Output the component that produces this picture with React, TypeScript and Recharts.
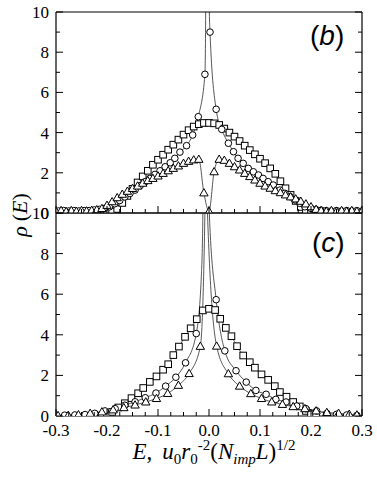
import React from 'react';
import { LineChart, Line, XAxis, YAxis } from 'recharts';

type Pt = [number, number];

const W = 377;
const H = 485;
const PLOT_L = 56;
const PLOT_R = 362;

const xTicks = Array.from({ length: 25 }, (_, i) => Math.round((-0.3 + i * 0.025) * 1000) / 1000);
const yTicks = [0, 1, 2, 3, 4, 5, 6, 7, 8, 9, 10];

// panel (b)
const bSquares: Pt[] = [
  [-0.2, 0.02], [-0.19, 0.07], [-0.18, 0.2], [-0.17, 0.5], [-0.16, 0.85], [-0.15, 1.2], [-0.14, 1.52],
  [-0.13, 1.82], [-0.12, 2.1], [-0.11, 2.4], [-0.1, 2.65], [-0.09, 2.9], [-0.08, 3.15], [-0.07, 3.4],
  [-0.06, 3.65], [-0.05, 3.9], [-0.04, 4.12], [-0.03, 4.3], [-0.02, 4.42], [-0.01, 4.48], [0, 4.48],
  [0.01, 4.46], [0.02, 4.38], [0.03, 4.2], [0.04, 4.0], [0.05, 3.8], [0.06, 3.58], [0.07, 3.35],
  [0.08, 3.13], [0.09, 2.92], [0.1, 2.7], [0.11, 2.48], [0.12, 2.22], [0.13, 1.95], [0.14, 1.58],
  [0.15, 1.23], [0.16, 0.9], [0.17, 0.6], [0.18, 0.3], [0.19, 0.12], [0.2, 0.03],
];
const bCircles: Pt[] = [
  [-0.295, 0.1], [-0.285, 0.12], [-0.275, 0.1], [-0.265, 0.12], [-0.255, 0.1], [-0.245, 0.12],
  [-0.235, 0.12], [-0.225, 0.15], [-0.215, 0.18], [-0.205, 0.23], [-0.195, 0.31], [-0.185, 0.46],
  [-0.175, 0.62], [-0.165, 0.8], [-0.155, 0.97], [-0.145, 1.14], [-0.135, 1.36], [-0.125, 1.56],
  [-0.116, 1.72], [-0.106, 1.92], [-0.096, 2.1], [-0.086, 2.3], [-0.076, 2.5], [-0.067, 2.72],
  [-0.057, 3.03], [-0.044, 3.35], [-0.032, 3.88], [-0.021, 4.79], [-0.008, 6.9], [0.002, 9.0],
  [0.014, 5.16], [0.025, 4.16], [0.038, 3.47], [0.048, 3.05], [0.057, 2.72], [0.067, 2.47],
  [0.077, 2.22], [0.087, 2.05], [0.097, 1.89], [0.106, 1.72], [0.116, 1.56], [0.126, 1.39],
  [0.139, 1.14], [0.149, 0.98], [0.159, 0.81], [0.169, 0.65], [0.178, 0.48], [0.188, 0.31],
  [0.2, 0.23], [0.21, 0.17], [0.22, 0.14], [0.23, 0.12], [0.24, 0.1], [0.25, 0.12], [0.26, 0.1],
  [0.27, 0.12], [0.28, 0.1], [0.29, 0.12], [0.3, 0.1],
];
// line-only points where the circle curve runs off the top
const bCirclePeak: Pt[] = [[-0.0065, 10], [-0.003, 40], [0.0006, 10]];
const bTriangles: Pt[] = [
  [-0.3, 0.08], [-0.29, 0.12], [-0.28, 0.07], [-0.27, 0.12], [-0.26, 0.08], [-0.25, 0.12], [-0.24, 0.1],
  [-0.23, 0.13], [-0.22, 0.16], [-0.21, 0.22], [-0.2, 0.38], [-0.19, 0.56], [-0.18, 0.76], [-0.17, 0.93],
  [-0.16, 1.08], [-0.15, 1.22], [-0.14, 1.34], [-0.13, 1.48], [-0.12, 1.61], [-0.11, 1.72], [-0.1, 1.84],
  [-0.09, 1.97], [-0.08, 2.1], [-0.07, 2.22], [-0.06, 2.34], [-0.05, 2.47], [-0.04, 2.57], [-0.03, 2.64],
  [-0.02, 2.67], [-0.01, 1.0], [0, 0.08], [0.01, 2.05], [0.02, 2.67], [0.03, 2.62], [0.04, 2.47],
  [0.05, 2.3], [0.06, 2.14], [0.07, 1.97], [0.08, 1.81], [0.09, 1.64], [0.1, 1.48], [0.11, 1.34],
  [0.12, 1.23], [0.13, 1.11], [0.14, 1.01], [0.15, 0.9], [0.16, 0.8], [0.17, 0.7], [0.18, 0.58],
  [0.19, 0.45], [0.2, 0.31], [0.21, 0.18], [0.22, 0.12], [0.23, 0.08], [0.24, 0.12], [0.25, 0.08],
  [0.26, 0.12], [0.27, 0.08], [0.28, 0.12], [0.29, 0.08], [0.3, 0.1],
];

// panel (c)
const cSquares: Pt[] = [
  [-0.21, 0.02], [-0.2, 0.06], [-0.19, 0.2], [-0.178, 0.42], [-0.165, 0.63], [-0.152, 0.88],
  [-0.139, 1.12], [-0.129, 1.38], [-0.116, 1.68], [-0.103, 1.95], [-0.09, 2.28], [-0.08, 2.55],
  [-0.07, 3.0], [-0.059, 3.42], [-0.047, 3.9], [-0.036, 4.32], [-0.024, 4.77], [-0.012, 5.2], [0, 5.28],
  [0.012, 5.22], [0.022, 4.79], [0.033, 4.34], [0.044, 3.93], [0.055, 3.44], [0.067, 2.98], [0.08, 2.65],
  [0.09, 2.38], [0.103, 2.05], [0.116, 1.78], [0.129, 1.47], [0.139, 1.18], [0.152, 0.95], [0.165, 0.69],
  [0.178, 0.47], [0.19, 0.25], [0.2, 0.08], [0.21, 0.02],
];
const cCircles: Pt[] = [
  [-0.3, 0.03], [-0.283, 0.04], [-0.263, 0.05], [-0.243, 0.07], [-0.224, 0.13], [-0.204, 0.25],
  [-0.184, 0.36], [-0.165, 0.53], [-0.145, 0.7], [-0.125, 0.9], [-0.104, 1.13], [-0.085, 1.47],
  [-0.065, 1.91], [-0.046, 2.62], [-0.025, 4.06], [0.014, 5.73], [0.031, 3.21], [0.053, 2.23],
  [0.073, 1.67], [0.092, 1.26], [0.112, 1.07], [0.131, 0.82], [0.151, 0.69], [0.172, 0.49], [0.19, 0.36],
  [0.211, 0.25], [0.231, 0.13], [0.25, 0.08], [0.27, 0.05], [0.29, 0.03],
];
const cCirclePeak: Pt[] = [[-0.015, 6.9], [-0.012, 10], [-0.0055, 40], [0.0006, 10]];
const cTriangles: Pt[] = [
  [-0.296, 0.02], [-0.276, 0.03], [-0.256, 0.06], [-0.233, 0.13], [-0.21, 0.2], [-0.188, 0.3],
  [-0.167, 0.41], [-0.145, 0.54], [-0.124, 0.69], [-0.103, 0.86], [-0.081, 1.11], [-0.06, 1.51],
  [-0.039, 2.09], [-0.017, 3.43], [0.015, 3.44], [0.038, 2.08], [0.06, 1.47], [0.082, 1.1], [0.103, 0.86],
  [0.123, 0.69], [0.144, 0.57], [0.165, 0.46], [0.188, 0.36], [0.21, 0.25], [0.231, 0.17], [0.254, 0.13],
  [0.275, 0.08], [0.29, 0.05],
];
const cTrianglePeak: Pt[] = [[-0.008, 10], [-0.0055, 40], [-0.003, 10]];

const rows = (pts: Pt[], extra: Pt[] = []) =>
  [
    ...pts.map(([E, v]) => ({ E, v, mark: true })),
    ...extra.map(([E, v]) => ({ E, v, mark: false })),
  ].sort((a, b) => a.E - b.E);

const SERIF = '"Liberation Serif", "Times New Roman", serif';
const axisStyle = { stroke: '#000', strokeWidth: 1.2 };

const marker = (shape: 'square' | 'circle' | 'triangle') => (p: any) => {
  const { cx, cy, payload, index } = p;
  if (!payload || !payload.mark || cx == null || cy == null) return <g key={`n${index}`} />;
  const common = { fill: '#fff', stroke: '#000', strokeWidth: 1 };
  if (shape === 'square') return <rect key={`s${index}`} x={cx - 3.3} y={cy - 3.3} width={6.6} height={6.6} {...common} />;
  if (shape === 'circle') return <circle key={`c${index}`} cx={cx} cy={cy} r={3.3} {...common} />;
  return (
    <polygon
      key={`t${index}`}
      points={`${cx},${cy - 4.3} ${cx - 4.2},${cy + 3} ${cx + 4.2},${cy + 3}`}
      {...common}
    />
  );
};

const isMajorX = (v: number) => Math.abs(v * 10 - Math.round(v * 10)) < 1e-6;

const xTick = (dir: number, withLabel: boolean) => (p: any) => {
  const v = p.payload.value;
  const major = isMajorX(v);
  return (
    <g key={`xt${p.index}`}>
      <line x1={p.x} x2={p.x} y1={p.y} y2={p.y + dir * (major ? 7 : 4)} stroke="#000" strokeWidth={1} />
      {withLabel && major && (
        <text x={p.x} y={p.y + 20} textAnchor="middle" fontFamily={SERIF} fontSize={17} fill="#000">
          {(Math.round(v * 10) / 10).toFixed(1)}
        </text>
      )}
    </g>
  );
};

const yTick = (dir: number, withLabel: boolean) => (p: any) => {
  const v = p.payload.value;
  const major = v % 2 === 0;
  return (
    <g key={`yt${p.index}`}>
      <line x1={p.x} x2={p.x + dir * (major ? 7 : 4)} y1={p.y} y2={p.y} stroke="#000" strokeWidth={1} />
      {withLabel && major && (
        <text x={p.x - 7} y={p.y} dy="0.35em" textAnchor="end" fontFamily={SERIF} fontSize={17} fill="#000">
          {v}
        </text>
      )}
    </g>
  );
};

interface PanelProps {
  y0: number;
  y1: number;
  xLabels: boolean;
  squares: ReturnType<typeof rows>;
  circles: ReturnType<typeof rows>;
  triangles: ReturnType<typeof rows>;
}

// the top/bottom x axes and the right y axis get a 1px band so that Recharts draws them
function Panel({ y0, y1, xLabels, squares, circles, triangles }: PanelProps) {
  const lineProps = {
    xAxisId: 'x',
    yAxisId: 'y',
    dataKey: 'v',
    type: 'monotone' as const,
    stroke: '#444',
    strokeWidth: 0.9,
    activeDot: false,
    isAnimationActive: false,
  };
  return (
    <div style={{ position: 'absolute', left: 0, top: 0 }}>
      <LineChart
        width={W}
        height={H}
        margin={{ top: y0 - 1, right: W - PLOT_R - 1, bottom: H - y1 - 1, left: 0 }}
      >
        <XAxis
          xAxisId="x"
          type="number"
          dataKey="E"
          domain={[-0.3, 0.3]}
          allowDataOverflow
          ticks={xTicks}
          interval={0}
          height={1}
          tickSize={0}
          tickMargin={0}
          tickLine={false}
          axisLine={axisStyle}
          tick={xTick(-1, xLabels)}
        />
        <XAxis
          xAxisId="xt"
          orientation="top"
          type="number"
          domain={[-0.3, 0.3]}
          allowDataOverflow
          ticks={xTicks}
          interval={0}
          height={1}
          tickSize={0}
          tickMargin={0}
          tickLine={false}
          axisLine={axisStyle}
          tick={xTick(1, false)}
        />
        <YAxis
          yAxisId="y"
          type="number"
          domain={[0, 10]}
          allowDataOverflow
          ticks={yTicks}
          interval={0}
          width={PLOT_L}
          tickSize={0}
          tickMargin={0}
          tickLine={false}
          axisLine={axisStyle}
          tick={yTick(1, true)}
        />
        <YAxis
          yAxisId="yr"
          orientation="right"
          type="number"
          domain={[0, 10]}
          allowDataOverflow
          ticks={yTicks}
          interval={0}
          width={1}
          tickSize={0}
          tickMargin={0}
          tickLine={false}
          axisLine={axisStyle}
          tick={yTick(-1, false)}
        />
        <Line {...lineProps} data={squares} dot={marker('square')} />
        <Line {...lineProps} data={circles} dot={marker('circle')} />
        <Line {...lineProps} data={triangles} dot={marker('triangle')} />
      </LineChart>
    </div>
  );
}

export default function App() {
  return (
    <div style={{ position: 'absolute', left: 0, top: 0, width: W, height: H, background: '#fff' }}>
      <Panel
        y0={12}
        y1={213}
        xLabels={false}
        squares={rows(bSquares)}
        circles={rows(bCircles, bCirclePeak)}
        triangles={rows(bTriangles)}
      />
      <Panel
        y0={213}
        y1={416}
        xLabels={true}
        squares={rows(cSquares)}
        circles={rows(cCircles, cCirclePeak)}
        triangles={rows(cTriangles, cTrianglePeak)}
      />
      <svg width={W} height={H} style={{ position: 'absolute', left: 0, top: 0, pointerEvents: 'none' }}>
        <text x={310} y={45} fontFamily='"Liberation Sans", Arial, sans-serif' fontSize={28} fill="#000">
          (<tspan fontStyle="italic">b</tspan>)
        </text>
        <text x={312} y={252} fontFamily='"Liberation Sans", Arial, sans-serif' fontSize={28} fill="#000">
          (<tspan fontStyle="italic">c</tspan>)
        </text>
        <text
          transform="rotate(-90)"
          x={-215}
          y={27}
          textAnchor="middle"
          fontFamily={SERIF}
          fontSize={22}
          fill="#000"
        >
          <tspan fontStyle="italic">ρ</tspan>
          <tspan dx={5}>(</tspan>
          <tspan fontStyle="italic">E</tspan>
          <tspan>)</tspan>
        </text>
        <text x={214} y={459} textAnchor="middle" fontFamily={SERIF} fontSize={23} fill="#000">
          <tspan fontStyle="italic">E</tspan>
          <tspan>,</tspan>
          <tspan dx={10} fontStyle="italic">u</tspan>
          <tspan fontSize={15} dy={5}>0</tspan>
          <tspan fontStyle="italic" dy={-5}>r</tspan>
          <tspan fontSize={15} dy={5}>0</tspan>
          <tspan fontSize={15} dy={-14}>-2</tspan>
          <tspan dy={9}>(</tspan>
          <tspan fontStyle="italic">N</tspan>
          <tspan fontSize={15} fontStyle="italic" dy={5}>imp</tspan>
          <tspan fontStyle="italic" dy={-5}>L</tspan>
          <tspan>)</tspan>
          <tspan fontSize={15} dy={-9}>1/2</tspan>
        </text>
      </svg>
    </div>
  );
}
